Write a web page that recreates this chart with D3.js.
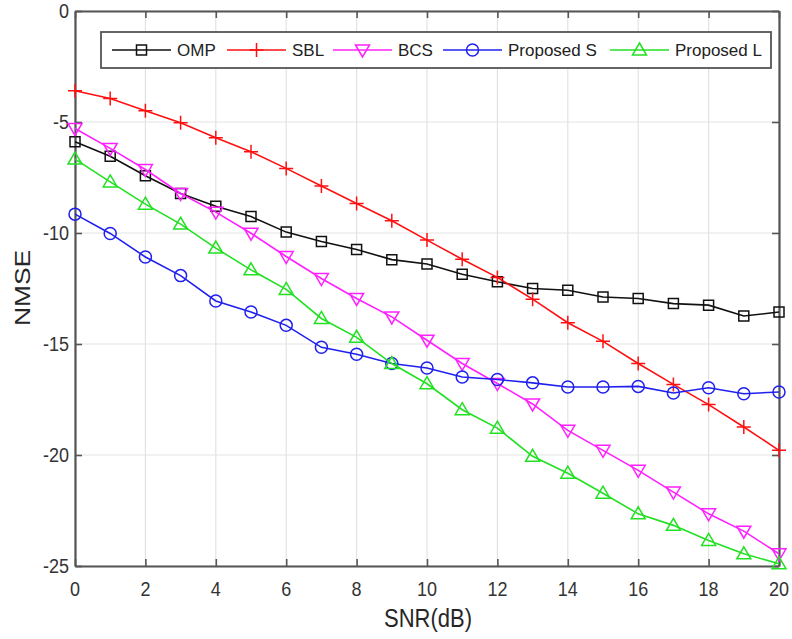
<!DOCTYPE html>
<html>
<head>
<meta charset="utf-8">
<script src="https://cdn.jsdelivr.net/npm/d3@7"></script>
<style>
  html, body { margin: 0; padding: 0; background: #fff; }
  svg { display: block; font-family: Arial, "Liberation Sans", Helvetica, sans-serif; }
</style>
</head>
<body>
<svg id="chart" width="792" height="639"></svg>
<script>
// SNR sweep (dB)
const snr = d3.range(0, 21);

// NMSE (dB) per method
const omp = [-5.89, -6.54, -7.42, -8.22, -8.80, -9.26, -9.96, -10.38, -10.74, -11.20, -11.40,
             -11.86, -12.20, -12.50, -12.58, -12.88, -12.95, -13.18, -13.25, -13.74, -13.56];
const sbl = [-3.59, -3.94, -4.49, -5.03, -5.71, -6.34, -7.09, -7.88, -8.67, -9.45, -10.32,
             -11.18, -12.00, -12.98, -14.04, -14.88, -15.88, -16.82, -17.73, -18.74, -19.79];
const bcs = [-5.29, -6.19, -7.14, -8.22, -9.06, -10.01, -11.06, -12.05, -12.95, -13.78, -14.83,
             -15.88, -16.78, -17.70, -18.89, -19.79, -20.69, -21.67, -22.65, -23.43, -24.45];
const propS = [-9.15, -10.02, -11.08, -11.92, -13.06, -13.56, -14.16, -15.15, -15.46, -15.88, -16.08,
               -16.49, -16.60, -16.75, -16.94, -16.94, -16.91, -17.21, -16.97, -17.24, -17.16];
const propL = [-6.67, -7.70, -8.70, -9.60, -10.68, -11.66, -12.54, -13.85, -14.70, -15.88, -16.79,
               -17.96, -18.79, -20.06, -20.82, -21.72, -22.65, -23.17, -23.85, -24.45, -24.90];

const seriesNames = ["OMP", "SBL", "BCS", "Proposed S", "Proposed L"];
const seriesValues = [omp, sbl, bcs, propS, propL];
const seriesColors = ["#111111", "#ff1010", "#ff20ff", "#2020ee", "#22e022"];
const seriesMarkers = ["square", "plus", "triangleDown", "circle", "triangleUp"];

const xTicks = d3.range(0, 21, 2);
const yTicks = [0, -5, -10, -15, -20, -25];

const svg = d3.select("#chart");
const plotLeft = 75, plotRight = 779, plotTop = 11, plotBottom = 566;

const x = d3.scaleLinear().domain([0, 20]).range([plotLeft, plotRight]);
const y = d3.scaleLinear().domain([-25, 0]).range([plotBottom, plotTop]);

// grid
const grid = svg.append("g").attr("stroke", "#e3e3e3").attr("stroke-width", 1.2);
grid.selectAll("line.gx").data(xTicks).join("line")
  .attr("x1", d => x(d)).attr("x2", d => x(d)).attr("y1", plotTop).attr("y2", plotBottom);
grid.selectAll("line.gy").data(yTicks).join("line")
  .attr("x1", plotLeft).attr("x2", plotRight).attr("y1", d => y(d)).attr("y2", d => y(d));

// axes with inward ticks on all four sides
const axisColor = "#555";
function styleAxis(g) {
  g.select(".domain").attr("stroke", axisColor).attr("stroke-width", 2.2);
  g.selectAll(".tick line").attr("stroke", axisColor).attr("stroke-width", 1.6);
  g.selectAll(".tick text").remove();
}
svg.append("g").attr("transform", `translate(0,${plotBottom})`)
  .call(d3.axisBottom(x).tickValues(xTicks).tickSize(-7).tickSizeOuter(0)).call(styleAxis);
svg.append("g").attr("transform", `translate(0,${plotTop})`)
  .call(d3.axisTop(x).tickValues(xTicks).tickSize(-7).tickSizeOuter(0)).call(styleAxis);
svg.append("g").attr("transform", `translate(${plotLeft},0)`)
  .call(d3.axisLeft(y).tickValues(yTicks).tickSize(-7).tickSizeOuter(0)).call(styleAxis);
svg.append("g").attr("transform", `translate(${plotRight},0)`)
  .call(d3.axisRight(y).tickValues(yTicks).tickSize(-7).tickSizeOuter(0)).call(styleAxis);

// tick labels
const tickFont = 18, textColor = "#333";
svg.append("g").selectAll("text").data(xTicks).join("text")
  .attr("transform", d => `translate(${x(d)},${plotBottom + 30}) scale(1,1.12)`)
  .attr("text-anchor", "middle")
  .attr("font-size", tickFont).attr("fill", textColor)
  .text(d => d);
svg.append("g").selectAll("text").data(yTicks).join("text")
  .attr("transform", d => `translate(${plotLeft - 6},${y(d) + 7}) scale(1,1.12)`)
  .attr("text-anchor", "end")
  .attr("font-size", tickFont).attr("fill", textColor)
  .text(d => d);

// axis titles
svg.append("text")
  .attr("transform", `translate(${(plotLeft + plotRight) / 2 + 1},${627}) scale(1,1.2)`)
  .attr("text-anchor", "middle").attr("font-size", 22).attr("fill", "#262626")
  .text("SNR(dB)");
svg.append("text")
  .attr("transform", `translate(${30},${288}) scale(1,1.2) rotate(-90)`)
  .attr("text-anchor", "middle").attr("font-size", 22).attr("fill", "#262626")
  .text("NMSE");

// marker shapes
function markerPath(type) {
  switch (type) {
    case "square": return "M-5,-5H5V5H-5Z";
    case "plus": return "M-7,0H7M0,-7V7";
    case "triangleDown": return "M-7,-5H7L0,7Z";
    case "triangleUp": return "M0,-7L7,5H-7Z";
    case "circle": return "M6,0A6,6 0 1,1 -6,0A6,6 0 1,1 6,0Z";
  }
}

const line = d3.line().x((d, i) => x(snr[i])).y(d => y(d));

const plot = svg.append("g");
seriesValues.forEach((vals, k) => {
  const g = plot.append("g");
  g.append("path").datum(vals)
    .attr("d", line).attr("fill", "none")
    .attr("stroke", seriesColors[k]).attr("stroke-width", 1.6);
  g.selectAll("path.m").data(vals).join("path")
    .attr("class", "m")
    .attr("transform", (d, i) => `translate(${x(snr[i])},${y(d)})`)
    .attr("d", markerPath(seriesMarkers[k]))
    .attr("fill", "none").attr("stroke", seriesColors[k]).attr("stroke-width", 1.5);
});

// legend
const legend = svg.append("g");
legend.append("rect")
  .attr("x", 101).attr("y", 32).attr("width", 670).attr("height", 36)
  .attr("fill", "#fff").attr("stroke", "#555").attr("stroke-width", 1.8);
const legendStarts = [112, 227, 333, 443, 610];
seriesNames.forEach((name, k) => {
  const lx = legendStarts[k], ly = 50;
  const g = legend.append("g");
  g.append("line").attr("x1", lx).attr("x2", lx + 59).attr("y1", ly).attr("y2", ly)
    .attr("stroke", seriesColors[k]).attr("stroke-width", 1.6);
  g.append("path").attr("transform", `translate(${lx + 29.5},${ly})`)
    .attr("d", markerPath(seriesMarkers[k]))
    .attr("fill", "none").attr("stroke", seriesColors[k]).attr("stroke-width", 1.5);
  g.append("text").attr("x", lx + 65).attr("y", ly + 6)
    .attr("font-size", 17).attr("fill", "#222").text(name);
});
</script>
</body>
</html>
